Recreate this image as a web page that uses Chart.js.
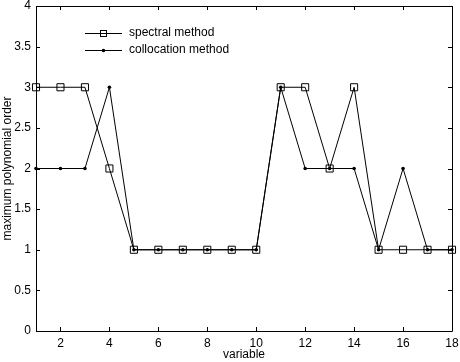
<!DOCTYPE html>
<html><head><meta charset="utf-8">
<script src="https://cdn.jsdelivr.net/npm/chart.js@4"></script>
<style>html,body{margin:0;padding:0;background:#fff}#w{width:460px;height:362px}</style>
</head><body><div id="w"><canvas id="c" width="460" height="362"></canvas></div>
<script>
const variables = [1,2,3,4,5,6,7,8,9,10,11,12,13,14,15,16,17,18];
const spectral = [3,3,3,2,1,1,1,1,1,1,3,3,2,3,1,1,1,1];
const collocation = [2,2,2,3,1,1,1,1,1,1,3,2,2,2,1,2,1,1];
const xTicks = [2,4,6,8,10,12,14,16,18];
const yTicks = [0,0.5,1,1.5,2,2.5,3,3.5,4];
const seriesNames = ['spectral method','collocation method'];
const FONT = 'Liberation Sans, Arial, sans-serif';

const frame = {
  id:'frame',
  beforeDatasetsDraw(chart){
    const {ctx, chartArea:a, scales:{x,y}} = chart;
    ctx.save();
    ctx.strokeStyle='#000'; ctx.lineWidth=1;
    ctx.beginPath();
    ctx.rect(Math.round(a.left)+0.5, Math.round(a.top)+0.5, Math.round(a.right-a.left), Math.round(a.bottom-a.top));
    ctx.stroke();
    ctx.beginPath();
    const L=4;
    x.ticks.forEach(t=>{const px=Math.round(x.getPixelForValue(t.value))+0.5;
      ctx.moveTo(px,a.bottom);ctx.lineTo(px,a.bottom-L);ctx.moveTo(px,a.top);ctx.lineTo(px,a.top+L);});
    y.ticks.forEach(t=>{const py=Math.round(y.getPixelForValue(t.value))+0.5;
      ctx.moveTo(a.left,py);ctx.lineTo(a.left+L,py);ctx.moveTo(a.right,py);ctx.lineTo(a.right-L,py);});
    ctx.stroke();
    // legend
    ctx.font='12px '+FONT; ctx.fillStyle='#000'; ctx.textBaseline='middle';
    const ly=[33,50];
    chart.data.datasets.forEach((d,i)=>{
      ctx.beginPath(); ctx.moveTo(85,ly[i]+0.5); ctx.lineTo(122,ly[i]+0.5); ctx.stroke();
      if(i===0){ctx.strokeRect(100.5,ly[i]-2.5,6,6);}
      else{ctx.beginPath();ctx.arc(103.5,ly[i]+0.5,1.8,0,Math.PI*2);ctx.fill();}
      ctx.fillText(seriesNames[i],129,ly[i]);
    });
    ctx.restore();
  }
};

new Chart(document.getElementById('c'),{
  type:'line',
  data:{datasets:[
    {label:seriesNames[0],data:variables.map((v,i)=>({x:v,y:spectral[i]})),borderColor:'#000',borderWidth:1,clip:false,
     pointStyle:'rect',pointRadius:5,pointBorderColor:'#000',pointBackgroundColor:'rgba(0,0,0,0)',pointBorderWidth:1,tension:0},
    {label:seriesNames[1],data:variables.map((v,i)=>({x:v,y:collocation[i]})),borderColor:'#000',borderWidth:1,clip:false,
     pointStyle:'circle',pointRadius:1.8,pointBorderWidth:0,pointBackgroundColor:'#000',tension:0}
  ]},
  options:{
    responsive:false,animation:false,
    layout:{padding:{top:4,right:8,left:0,bottom:0}},
    plugins:{legend:{display:false},tooltip:{enabled:false}},
    scales:{
      x:{type:'linear',min:1,max:18,
        afterBuildTicks(s){s.ticks=xTicks.map(v=>({value:v}));},
        afterFit(s){s.height=31;s.paddingLeft=0;s.paddingRight=0;},
        grid:{display:false,drawTicks:false},border:{display:false},
        ticks:{color:'#000',font:{family:FONT,size:12},padding:5,maxRotation:0},
        title:{display:true,text:'variable',color:'#000',font:{family:FONT,size:12},padding:{top:0,bottom:0}}},
      y:{type:'linear',min:0,max:4,
        afterBuildTicks(s){s.ticks=yTicks.map(v=>({value:v}));},
        afterFit(s){s.width=36;s.paddingTop=0;s.paddingBottom=0;},
        grid:{display:false,drawTicks:false},border:{display:false},
        ticks:{color:'#000',font:{family:FONT,size:12},padding:5,callback:v=>String(v)},
        title:{display:true,text:'maximum polynomial order',color:'#000',font:{family:FONT,size:12},padding:{top:0,bottom:0}}}
    }
  },
  plugins:[frame]
});
</script></body></html>
